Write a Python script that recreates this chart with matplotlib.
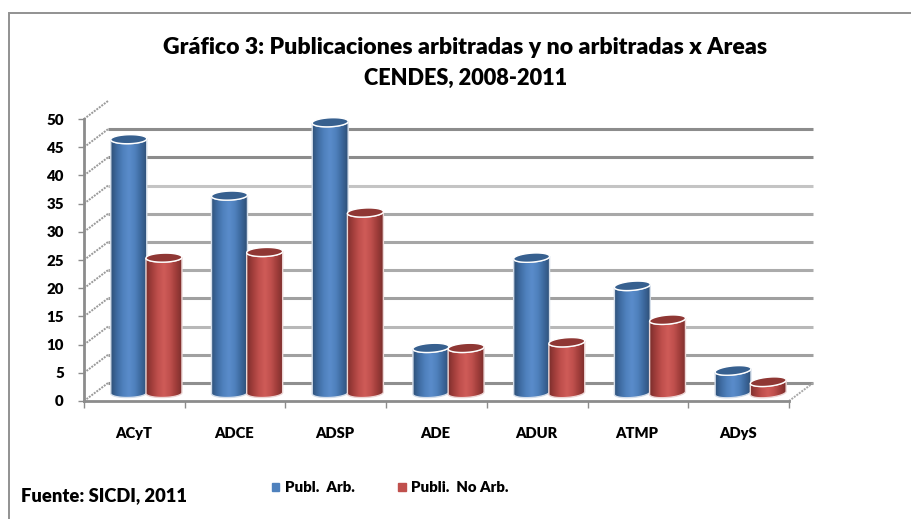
import numpy as np
import matplotlib
matplotlib.use("Agg")
import matplotlib.pyplot as plt
from matplotlib.patches import Polygon, Rectangle
from matplotlib.lines import Line2D
from matplotlib.colors import LinearSegmentedColormap

categories = ["ACyT", "ADCE", "ADSP", "ADE", "ADUR", "ATMP", "ADyS"]
publ_arb = [45, 35, 48, 8, 24, 19, 4]
publ_no_arb = [24, 25, 32, 8, 9, 13, 2]
y_ticks = [0, 5, 10, 15, 20, 25, 30, 35, 40, 45, 50]
grid_shades = ["#8f8f8f", "#a0a0a0", "#b8b8b8", "#a0a0a0", "#ababab",
               "#a6a6a6", "#a8a8a8", "#c4c4c4", "#8c8c8c", "#8c8c8c"]

W, H = 912, 519
plt.rcParams['font.family'] = ['Lato', 'DejaVu Sans']
WEIGHT = "heavy"
fig = plt.figure(figsize=(W / 100, H / 100), dpi=100, facecolor="white")
x0, x1, y0, y1 = 84, 789, 401, 119
ax = fig.add_axes([x0 / W, 1 - y0 / H, (x1 - x0) / W, (y0 - y1) / H])
ax.set_xlim(-0.5, 6.5)
ax.set_ylim(0, 50)
ax.patch.set_alpha(0)

ux = (x1 - x0) / 7      # px per category
uy = (y0 - y1) / 50     # px per value
dx, dy = 24 / ux, 18 / uy   # depth of the 3D box in data units

for v, c in zip(y_ticks[:-1], grid_shades):
    ax.plot([-0.5 + dx, 6.5 + dx], [v + dy, v + dy], color=c, lw=2.2,
            solid_capstyle="butt", clip_on=False, zorder=1)
for v in y_ticks:
    ax.plot([-0.5, -0.5 + dx], [v, v + dy], color="#9a9a9a", lw=1.4,
            ls=(0, (1, 0.6)), clip_on=False, zorder=1)
ax.plot([6.5, 6.5 + dx], [0, dy], color="#a8a8a8", lw=1.4, ls=(0, (1, 0.6)),
        clip_on=False, zorder=1)

blue_cm = LinearSegmentedColormap.from_list("b", ["#2f5179", "#3f6ca3", "#4f81bd", "#5a8ccb", "#4f81bd", "#3d699e", "#2f5179"])
red_cm = LinearSegmentedColormap.from_list("r", ["#7d2f2d", "#a43f3c", "#c0504d", "#cf5c58", "#c0504d", "#a13e3b", "#7d2f2d"])
grad = np.linspace(0, 1, 64)[None, :]


def ellipse_pts(cx, cy, rx_px, ry_px, tilt_deg, t):
    """Points of a tilted ellipse, tilt measured in pixels, returned in data units."""
    a = np.radians(tilt_deg)
    px = rx_px * np.cos(t)
    py = ry_px * np.sin(t)
    return cx + (px * np.cos(a) - py * np.sin(a)) / ux, cy + (px * np.sin(a) + py * np.cos(a)) / uy


def cylinder(cx, v, cmap, top_color, edge, z, tilt):
    rx_px, ry_px = 18.0, 4.5
    base = 8.0 / uy
    top = v + base
    t = np.linspace(np.pi, 2 * np.pi, 40)
    bx, by = ellipse_pts(cx, base, rx_px, ry_px, tilt, t)
    fx, fy = ellipse_pts(cx, top, rx_px, ry_px, tilt, t[::-1])
    poly = Polygon(np.c_[np.r_[bx, fx], np.r_[by, fy]], closed=True, facecolor="none",
                   edgecolor=edge, lw=1.0, zorder=z + 0.2, clip_on=False)
    ax.add_patch(poly)
    rx = rx_px / ux
    im = ax.imshow(grad, cmap=cmap, extent=[cx - rx, cx + rx, 0, top + 2],
                   aspect="auto", zorder=z, interpolation="bilinear")
    im.set_clip_path(poly)
    ring = np.linspace(0, 2 * np.pi, 60)
    ex, ey = ellipse_pts(cx, top, rx_px, ry_px, tilt, ring)
    ax.add_patch(Polygon(np.c_[ex, ey], closed=True, facecolor=top_color,
                         edgecolor="white", lw=1.0, zorder=z + 0.3, clip_on=False))


offset = 12 / ux
half = 17.6 / ux
for i in range(len(categories)):
    tilt = 1.5 + 0.7 * i
    cylinder(i + offset - half, publ_arb[i], blue_cm, "#37608f", "#d5deea", 3 + i, tilt)
    cylinder(i + offset + half, publ_no_arb[i], red_cm, "#8f3734", "#ecd6d5", 3.5 + i, tilt)
ax.set_xlim(-0.5, 6.5)
ax.set_ylim(0, 50)

for s in ("top", "right"):
    ax.spines[s].set_visible(False)
for s in ("left", "bottom"):
    ax.spines[s].set_color("#8c8c8c")
    ax.spines[s].set_linewidth(2)
ax.set_yticks(y_ticks)
ax.set_yticklabels([str(v) for v in y_ticks], fontsize=10.8, fontweight=WEIGHT, color="black")
ax.tick_params(axis="y", length=4, width=1, color="#8c8c8c", pad=10.5)
ax.set_xticks(np.arange(-0.5, 7.5))
ax.set_xticklabels([])
ax.tick_params(axis="x", length=5, width=1, color="#8c8c8c")
for i, c in enumerate(categories):
    ax.annotate(c, (i, 0), xytext=(-1, -33), textcoords="offset pixels", ha="center", va="center",
                fontsize=10.6, fontweight=WEIGHT, color="black", annotation_clip=False)

fig.text(465 / W, 1 - 47 / H, "Gráfico 3: Publicaciones arbitradas y no arbitradas x Areas",
         ha="center", va="center", fontsize=16.6, fontweight=WEIGHT)
fig.text(465.5 / W, 1 - 78 / H, "CENDES, 2008-2011", ha="center", va="center",
         fontsize=15.7, fontweight=WEIGHT)
fig.text(21 / W, 1 - 496 / H, "Fuente: SICDI, 2011", ha="left", va="center",
         fontsize=13.2, fontweight=WEIGHT)

handles = [Rectangle((0, 0), 1, 1, color="#4f81bd"), Rectangle((0, 0), 1, 1, color="#c0504d")]
fig.legend(handles, ["Publ.  Arb.", "Publi.  No Arb."], ncol=2, frameon=False,
           loc="center left", bbox_to_anchor=(272 / W, 1 - 488 / H), borderaxespad=0, borderpad=0,
           prop={"weight": WEIGHT, "size": 10.8}, handlelength=0.5, handleheight=0.5,
           handletextpad=0.36, columnspacing=2.9)

# border: only top and left are inside the crop
fig.add_artist(Line2D([9 / W, 9 / W, 1], [0, 1 - 12.5 / H, 1 - 12.5 / H], transform=fig.transFigure,
                      color="#929292", lw=1.4, solid_joinstyle="miter"))
fig.savefig("out.png", dpi=100)
